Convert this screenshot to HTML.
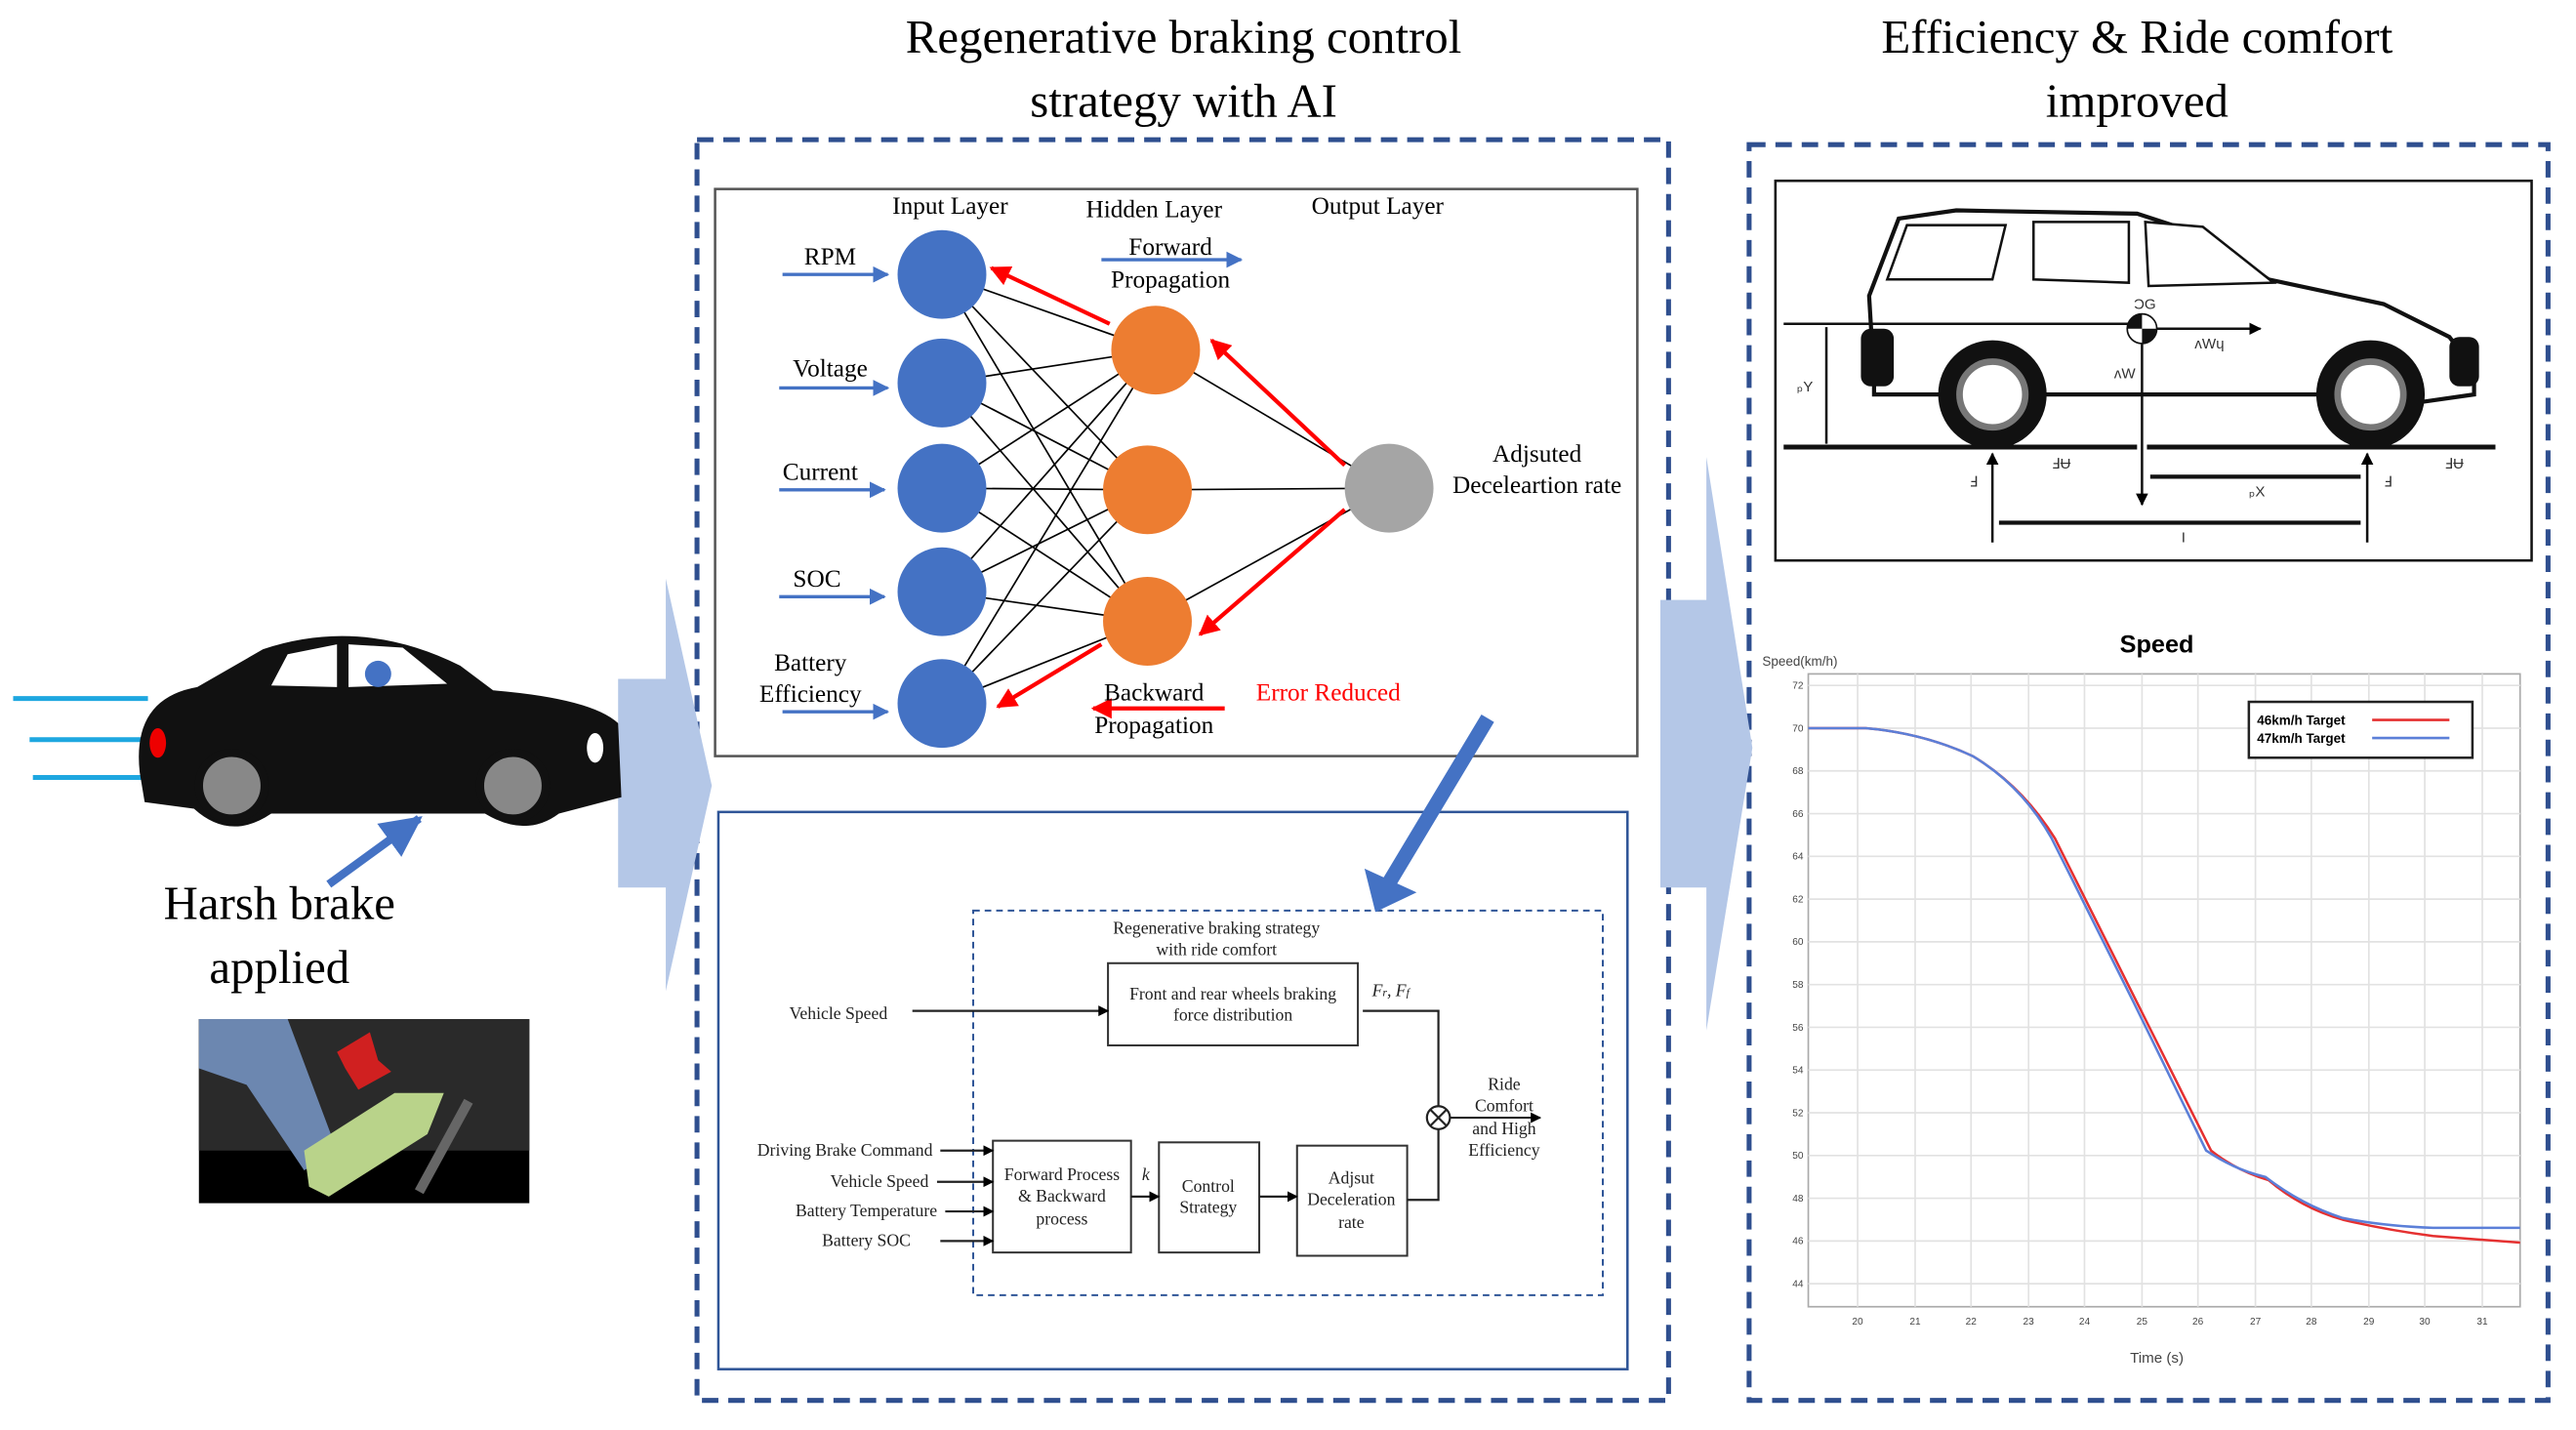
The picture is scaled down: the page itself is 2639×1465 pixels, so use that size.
<!DOCTYPE html>
<html><head><meta charset="utf-8"><style>html,body{margin:0;padding:0;background:#fff}svg{display:block}</style></head>
<body>
<svg width="2639" height="1465" viewBox="0 0 1567 870" preserveAspectRatio="none" xmlns="http://www.w3.org/2000/svg" font-family="Liberation Serif, serif">
<defs>
<marker id="ab" viewBox="0 0 10 10" refX="9" refY="5" markerWidth="5" markerHeight="5" orient="auto"><path d="M0,0L10,5L0,10z" fill="#4472C4"/></marker>
<marker id="ar" viewBox="0 0 10 10" refX="9" refY="5" markerWidth="5" markerHeight="5" orient="auto"><path d="M0,0L10,5L0,10z" fill="#f00"/></marker>
<marker id="ak" viewBox="0 0 10 10" refX="9" refY="5" markerWidth="5" markerHeight="5" orient="auto"><path d="M0,0L10,5L0,10z" fill="#000"/></marker>
</defs>
<g font-size="29" text-anchor="middle" fill="#000">
<text x="720" y="32">Regenerative braking control</text>
<text x="720" y="71">strategy with AI</text>
<text x="1300" y="32">Efficiency &amp; Ride comfort</text>
<text x="1300" y="71">improved</text>
</g>
<rect x="424" y="85" width="591" height="767" fill="none" stroke="#2F4F8F" stroke-width="3" stroke-dasharray="10 6"/>
<rect x="1064" y="88" width="486" height="764" fill="none" stroke="#2F4F8F" stroke-width="3" stroke-dasharray="10 6"/>
<path d="M376,413H405V352L433,478L405,603V540H376Z" fill="#B4C7E7"/>
<path d="M1010,365H1038V278L1066,455L1038,627V540H1010Z" fill="#B4C7E7"/>
<g stroke="#1EA7E0" stroke-width="3"><line x1="8" y1="425" x2="90" y2="425"/><line x1="18" y1="450" x2="90" y2="450"/><line x1="20" y1="473" x2="95" y2="473"/></g>
<path d="M85,470 Q80,425 120,418 L160,395 Q220,375 280,405 L300,420 Q360,425 376,440 L378,485 L340,495 Q320,510 295,495 L165,495 Q140,512 118,492 L88,488 Z" fill="#111"/>
<path d="M165,417 L175,398 L205,392 L205,418Z M212,392 L245,394 L272,416 L212,418Z" fill="#fff"/>
<circle cx="230" cy="410" r="8" fill="#4472C4"/>
<circle cx="141" cy="478" r="20" fill="#888" stroke="#111" stroke-width="5"/>
<circle cx="312" cy="478" r="20" fill="#888" stroke="#111" stroke-width="5"/>
<ellipse cx="96" cy="452" rx="5" ry="9" fill="#e00"/>
<ellipse cx="362" cy="455" rx="5" ry="9" fill="#fff"/>
<line x1="200" y1="538" x2="255" y2="498" stroke="#4472C4" stroke-width="5" marker-end="url(#ab)"/>
<g font-size="29" text-anchor="middle"><text x="170" y="559">Harsh brake</text><text x="170" y="598">applied</text></g>
<rect x="121" y="620" width="201" height="112" fill="#000"/>
<rect x="121" y="620" width="201" height="80" fill="#2a2a2a"/>
<path d="M121,620 L175,620 L205,700 L185,712 L150,660 L121,650Z" fill="#6C87B0"/>
<path d="M185,700 L240,665 L270,665 L260,690 L200,728 L188,722Z" fill="#B9D38A"/>
<path d="M205,640 L225,628 L230,645 L238,652 L218,663 L210,650Z" fill="#D02020"/>
<line x1="255" y1="725" x2="285" y2="670" stroke="#666" stroke-width="6"/>
<rect x="435" y="115" width="561" height="345" fill="#fff" stroke="#555" stroke-width="1.5"/>
<g stroke="#000" stroke-width="1">
<line x1="573" y1="167" x2="703" y2="213"/><line x1="573" y1="167" x2="698" y2="298"/><line x1="573" y1="167" x2="698" y2="378"/>
<line x1="573" y1="233" x2="703" y2="213"/><line x1="573" y1="233" x2="698" y2="298"/><line x1="573" y1="233" x2="698" y2="378"/>
<line x1="573" y1="297" x2="703" y2="213"/><line x1="573" y1="297" x2="698" y2="298"/><line x1="573" y1="297" x2="698" y2="378"/>
<line x1="573" y1="360" x2="703" y2="213"/><line x1="573" y1="360" x2="698" y2="298"/><line x1="573" y1="360" x2="698" y2="378"/>
<line x1="573" y1="428" x2="703" y2="213"/><line x1="573" y1="428" x2="698" y2="298"/><line x1="573" y1="428" x2="698" y2="378"/>
<line x1="703" y1="213" x2="845" y2="297"/><line x1="698" y1="298" x2="845" y2="297"/><line x1="698" y1="378" x2="845" y2="297"/>
</g>
<g fill="#4472C4"><circle cx="573" cy="167" r="27"/><circle cx="573" cy="233" r="27"/><circle cx="573" cy="297" r="27"/><circle cx="573" cy="360" r="27"/><circle cx="573" cy="428" r="27"/></g>
<g fill="#ED7D31"><circle cx="703" cy="213" r="27"/><circle cx="698" cy="298" r="27"/><circle cx="698" cy="378" r="27"/></g>
<circle cx="845" cy="297" r="27" fill="#A5A5A5"/>
<g stroke="#f00" stroke-width="2.5" marker-end="url(#ar)"><line x1="675" y1="197" x2="603" y2="163"/><line x1="818" y1="283" x2="737" y2="207"/><line x1="818" y1="310" x2="730" y2="386"/><line x1="670" y1="392" x2="607" y2="430"/><line x1="745" y1="431" x2="665" y2="431"/></g>
<g stroke="#4472C4" stroke-width="2" marker-end="url(#ab)"><line x1="670" y1="158" x2="755" y2="158"/><line x1="476" y1="167" x2="540" y2="167"/><line x1="474" y1="236" x2="540" y2="236"/><line x1="474" y1="298" x2="538" y2="298"/><line x1="474" y1="363" x2="538" y2="363"/><line x1="476" y1="433" x2="540" y2="433"/></g>
<g font-size="15" text-anchor="middle">
<text x="578" y="130">Input Layer</text><text x="702" y="132">Hidden Layer</text><text x="838" y="130">Output Layer</text>
<text x="712" y="155">Forward</text><text x="712" y="175">Propagation</text>
<text x="505" y="161">RPM</text><text x="505" y="229">Voltage</text><text x="499" y="292">Current</text><text x="497" y="357">SOC</text>
<text x="493" y="408">Battery</text><text x="493" y="427">Efficiency</text>
<text x="935" y="281">Adjsuted</text><text x="935" y="300">Deceleartion rate</text>
<text x="702" y="426">Backward</text><text x="702" y="446">Propagation</text>
<text x="808" y="426" fill="#f00">Error Reduced</text>
</g>
<rect x="437" y="494" width="553" height="339" fill="#fff" stroke="#2F5597" stroke-width="1.5"/>
<rect x="592" y="554" width="383" height="234" fill="none" stroke="#2F5597" stroke-width="1.2" stroke-dasharray="4 3"/>
<line x1="905" y1="437" x2="842" y2="542" stroke="#4472C4" stroke-width="9"/>
<path d="M833,532 L838,552 L857,543Z" fill="#4472C4" stroke="#4472C4" stroke-width="4"/>
<g fill="#fff" stroke="#333" stroke-width="1.2"><rect x="674" y="586" width="152" height="50"/><rect x="604" y="694" width="84" height="68"/><rect x="705" y="695" width="61" height="67"/><rect x="789" y="697" width="67" height="67"/></g>
<g stroke="#222" stroke-width="1.3" fill="none">
<line x1="555" y1="615" x2="674" y2="615" marker-end="url(#ak)"/>
<polyline points="829,615 875,615 875,673"/>
<line x1="688" y1="728" x2="705" y2="728" marker-end="url(#ak)"/>
<line x1="766" y1="728" x2="789" y2="728" marker-end="url(#ak)"/>
<polyline points="856,730 875,730 875,687"/>
<line x1="882" y1="680" x2="937" y2="680" marker-end="url(#ak)"/>
<line x1="572" y1="700" x2="604" y2="700" marker-end="url(#ak)"/>
<line x1="570" y1="719" x2="604" y2="719" marker-end="url(#ak)"/>
<line x1="575" y1="737" x2="604" y2="737" marker-end="url(#ak)"/>
<line x1="572" y1="755" x2="604" y2="755" marker-end="url(#ak)"/>
<circle cx="875" cy="680" r="7" fill="#fff"/><line x1="870" y1="675" x2="880" y2="685"/><line x1="880" y1="675" x2="870" y2="685"/>
</g>
<g font-size="10.5" text-anchor="middle" fill="#222">
<text x="740" y="568">Regenerative braking strategy</text><text x="740" y="581">with ride comfort</text>
<text x="750" y="608">Front and rear wheels braking</text><text x="750" y="621">force distribution</text>
<text x="846" y="606" font-style="italic">F<tspan font-size="7">r</tspan>, F<tspan font-size="7">f</tspan></text>
<text x="510" y="620">Vehicle Speed</text>
<text x="915" y="663">Ride</text><text x="915" y="676">Comfort</text><text x="915" y="690">and High</text><text x="915" y="703">Efficiency</text>
<text x="646" y="718">Forward Process</text><text x="646" y="731">&amp; Backward</text><text x="646" y="745">process</text>
<text x="697" y="718" font-style="italic">k</text>
<text x="735" y="725">Control</text><text x="735" y="738">Strategy</text>
<text x="822" y="720">Adjsut</text><text x="822" y="733">Deceleration</text><text x="822" y="747">rate</text>
<text x="514" y="703">Driving Brake  Command</text><text x="535" y="722">Vehicle Speed</text><text x="527" y="740">Battery Temperature</text><text x="527" y="758">Battery SOC</text>
</g>
<rect x="1080" y="110" width="460" height="231" fill="#fff" stroke="#111" stroke-width="1.5"/>
<path d="M1140,230 L1137,180 L1155,133 L1190,128 L1300,130 L1340,143 L1380,170 L1450,185 L1490,205 L1505,225 L1505,240 L1470,245 L1415,240 L1260,240 L1180,240 L1140,240Z" fill="#fff" stroke="#111" stroke-width="2.5"/>
<path d="M1148,170 L1160,137 L1220,137 L1212,170Z M1237,135 L1295,135 L1295,172 L1237,170Z M1305,135 L1340,138 L1383,172 L1307,174Z" fill="#fff" stroke="#111" stroke-width="1.5"/>
<rect x="1132" y="200" width="20" height="35" rx="6" fill="#111"/><rect x="1490" y="205" width="18" height="30" rx="6" fill="#111"/>
<circle cx="1212" cy="240" r="33" fill="#111"/><circle cx="1212" cy="240" r="20" fill="#fff" stroke="#777" stroke-width="4"/>
<circle cx="1442" cy="240" r="33" fill="#111"/><circle cx="1442" cy="240" r="20" fill="#fff" stroke="#777" stroke-width="4"/>
<g stroke="#111" stroke-width="1.5" fill="none">
<line x1="1085" y1="197" x2="1305" y2="197"/><line x1="1305" y1="200" x2="1375" y2="200" marker-end="url(#ak)"/>
<line x1="1085" y1="272" x2="1300" y2="272" stroke-width="3"/><line x1="1306" y1="272" x2="1518" y2="272" stroke-width="3"/>
<line x1="1111" y1="199" x2="1111" y2="270"/>
<line x1="1303" y1="205" x2="1303" y2="307" marker-end="url(#ak)"/>
<line x1="1212" y1="330" x2="1212" y2="276" marker-end="url(#ak)"/><line x1="1440" y1="330" x2="1440" y2="276" marker-end="url(#ak)"/>
<line x1="1308" y1="290" x2="1436" y2="290" stroke-width="2.5"/>
<line x1="1216" y1="318" x2="1436" y2="318" stroke-width="2.5"/>
</g>
<circle cx="1303" cy="200" r="9" fill="#fff" stroke="#111"/><path d="M1303,191 A9,9 0 0,0 1294,200 L1303,200Z M1303,209 A9,9 0 0,0 1312,200 L1303,200Z" fill="#111"/>
<g font-size="9" font-family="Liberation Sans, sans-serif" fill="#333"><text x="1298" y="188">ƆG</text><text x="1335" y="212">ʌWɥ</text><text x="1286" y="230">ʌW</text><text x="1093" y="238">ₚY</text><text x="1248" y="285">ℲɄ</text><text x="1487" y="285">ℲɄ</text><text x="1198" y="296">Ⅎ</text><text x="1450" y="296">Ⅎ</text><text x="1368" y="302">ₚX</text><text x="1327" y="330">I</text></g>
<g font-family="Liberation Sans, sans-serif">
<text x="1312" y="397" font-size="15" font-weight="bold" text-anchor="middle">Speed</text>
<text x="1072" y="405" font-size="8" fill="#444">Speed(km/h)</text>
<rect x="1100" y="410" width="433" height="385" fill="#fff" stroke="#aaa"/>
<g stroke="#e2e2e2" stroke-width="1">
<line x1="1100" y1="417" x2="1533" y2="417"/><line x1="1100" y1="443" x2="1533" y2="443"/><line x1="1100" y1="469" x2="1533" y2="469"/><line x1="1100" y1="495" x2="1533" y2="495"/><line x1="1100" y1="521" x2="1533" y2="521"/><line x1="1100" y1="547" x2="1533" y2="547"/><line x1="1100" y1="573" x2="1533" y2="573"/><line x1="1100" y1="599" x2="1533" y2="599"/><line x1="1100" y1="625" x2="1533" y2="625"/><line x1="1100" y1="651" x2="1533" y2="651"/><line x1="1100" y1="677" x2="1533" y2="677"/><line x1="1100" y1="703" x2="1533" y2="703"/><line x1="1100" y1="729" x2="1533" y2="729"/><line x1="1100" y1="755" x2="1533" y2="755"/><line x1="1100" y1="781" x2="1533" y2="781"/>
<line x1="1130" y1="410" x2="1130" y2="795"/><line x1="1165" y1="410" x2="1165" y2="795"/><line x1="1199" y1="410" x2="1199" y2="795"/><line x1="1234" y1="410" x2="1234" y2="795"/><line x1="1268" y1="410" x2="1268" y2="795"/><line x1="1303" y1="410" x2="1303" y2="795"/><line x1="1337" y1="410" x2="1337" y2="795"/><line x1="1372" y1="410" x2="1372" y2="795"/><line x1="1406" y1="410" x2="1406" y2="795"/><line x1="1441" y1="410" x2="1441" y2="795"/><line x1="1475" y1="410" x2="1475" y2="795"/><line x1="1510" y1="410" x2="1510" y2="795"/>
</g>
<g font-size="6" fill="#444" text-anchor="end"><text x="1097" y="419">72</text><text x="1097" y="445">70</text><text x="1097" y="471">68</text><text x="1097" y="497">66</text><text x="1097" y="523">64</text><text x="1097" y="549">62</text><text x="1097" y="575">60</text><text x="1097" y="601">58</text><text x="1097" y="627">56</text><text x="1097" y="653">54</text><text x="1097" y="679">52</text><text x="1097" y="705">50</text><text x="1097" y="731">48</text><text x="1097" y="757">46</text><text x="1097" y="783">44</text></g>
<g font-size="6" fill="#444" text-anchor="middle"><text x="1130" y="806">20</text><text x="1165" y="806">21</text><text x="1199" y="806">22</text><text x="1234" y="806">23</text><text x="1268" y="806">24</text><text x="1303" y="806">25</text><text x="1337" y="806">26</text><text x="1372" y="806">27</text><text x="1406" y="806">28</text><text x="1441" y="806">29</text><text x="1475" y="806">30</text><text x="1510" y="806">31</text></g>
<text x="1312" y="829" font-size="9" fill="#444" text-anchor="middle">Time (s)</text>
<path d="M1100,443 L1135,443 Q1170,446 1200,460 Q1230,478 1250,510 L1300,610 L1345,700 Q1360,712 1380,718 Q1400,735 1425,742 Q1450,748 1480,752 L1533,756" fill="none" stroke="#E53030" stroke-width="1.5"/>
<path d="M1100,443 L1135,443 Q1170,446 1200,460 Q1230,478 1248,510 L1298,610 L1342,700 Q1360,712 1378,716 Q1400,733 1425,741 Q1450,746 1480,747 L1533,747" fill="none" stroke="#5B7FD8" stroke-width="1.5"/>
<rect x="1368" y="427" width="136" height="34" fill="#fff" stroke="#222" stroke-width="1.5"/>
<text x="1373" y="441" font-size="8" font-weight="bold">46km/h Target</text><line x1="1443" y1="438" x2="1490" y2="438" stroke="#E53030" stroke-width="1.5"/>
<text x="1373" y="452" font-size="8" font-weight="bold">47km/h Target</text><line x1="1443" y1="449" x2="1490" y2="449" stroke="#5B7FD8" stroke-width="1.5"/>
</g>
</svg>
</body></html>
